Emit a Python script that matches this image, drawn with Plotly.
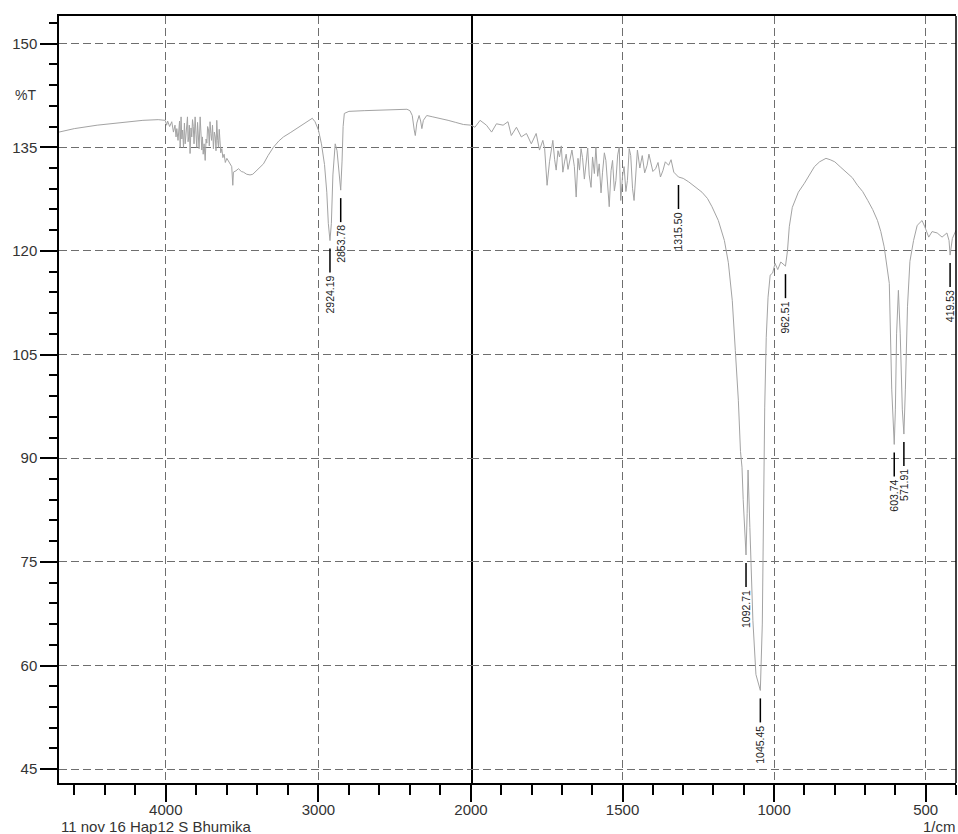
import plotly.graph_objects as go

# ---------------- data ----------------
# left panel: 4700 -> 2000 1/cm
wn_left = [4700, 4600, 4450, 4300, 4150, 4050,
           4004, 3995, 3988, 3975, 3961, 3950, 3940, 3933, 3928, 3920, 3915, 3910, 3906, 3900,
           3895, 3890, 3884, 3878, 3873, 3868, 3865, 3858, 3854, 3850, 3846, 3841, 3835, 3830,
           3825, 3820, 3815, 3808, 3802, 3797, 3792, 3788, 3782, 3775, 3770, 3764, 3760, 3755,
           3749, 3742, 3736, 3731, 3726, 3720, 3715, 3710, 3705, 3700, 3694, 3688, 3682, 3676,
           3671, 3666, 3660, 3655, 3650, 3645, 3640, 3633, 3626, 3618, 3610, 3600, 3585,
           3568, 3561, 3557, 3540, 3524, 3505, 3491, 3470, 3448, 3430, 3415, 3390, 3360, 3330,
           3295, 3260, 3229, 3185, 3142, 3100, 3054, 3040, 3022, 3000, 2980, 2960, 2945, 2935,
           2924.19, 2915, 2905, 2890, 2878, 2865, 2853.78, 2845, 2838, 2830, 2800, 2700, 2600,
           2500, 2420, 2400, 2385, 2372, 2365, 2355, 2340, 2330, 2322, 2312, 2290, 2250, 2200,
           2150, 2100, 2050, 2000]
t_left = [137.2, 137.7, 138.2, 138.6, 138.9, 139.0,
          138.9, 138.2, 138.8, 138.0, 138.7, 137.2, 138.2, 136.5, 137.7, 136.0, 137.0, 138.8, 135.0, 139.4,
          136.2, 137.5, 135.0, 138.5, 135.5, 137.0, 138.0, 139.4, 135.8, 136.5, 138.2, 134.1, 137.8, 136.5,
          139.0, 138.0, 135.5, 139.4, 136.8, 135.0, 138.6, 137.0, 134.8, 139.4, 136.0, 134.6, 136.5, 134.0,
          135.5, 133.1, 136.2, 135.6, 138.0, 137.5, 135.2, 138.7, 137.0, 136.0, 138.2, 134.8, 137.2, 136.5,
          134.5, 138.9, 136.0, 135.0, 137.6, 135.5, 134.2, 134.8, 133.5, 134.0, 132.8, 133.4, 132.8,
          132.2, 129.5, 131.4, 131.6, 131.9, 131.5, 131.4, 131.1, 131.0, 131.1, 131.4, 132.0, 132.6, 133.8,
          135.0, 135.9, 136.5, 137.1, 137.7, 138.4, 139.0, 139.2, 138.7, 137.5, 135.5, 132.5, 128.5, 124.0,
          121.5, 124.0, 131.0, 135.5, 134.5, 131.0, 128.8, 133.0, 138.0, 139.9, 140.2, 140.3, 140.4,
          140.5, 140.5, 140.3, 139.6, 137.5, 136.7, 138.5, 139.6, 138.8, 137.7, 138.9, 139.6, 139.4, 139.2,
          138.9, 138.6, 138.3, 138.2]

# right panel: 2000 -> 400 1/cm
wn_right = [2000, 1987, 1970, 1949, 1932, 1916, 1894, 1878, 1867, 1850, 1834, 1817, 1801, 1785,
            1774, 1763, 1757, 1749, 1741, 1735, 1730, 1724, 1719, 1713, 1708, 1702, 1697, 1691, 1686,
            1680, 1675, 1667, 1659, 1653, 1647, 1642, 1637, 1632, 1626, 1621, 1615, 1610, 1604, 1599,
            1593, 1588, 1582, 1577, 1571, 1566, 1560, 1555, 1549, 1544, 1538, 1533, 1527, 1522, 1516,
            1511, 1506, 1500, 1495, 1489, 1484, 1478, 1473, 1467, 1462, 1456, 1451, 1443, 1435, 1427,
            1419, 1413, 1408, 1400, 1391, 1383, 1375, 1367, 1359, 1348, 1340, 1331, 1315.50, 1300,
            1282, 1260, 1238, 1220, 1205, 1184, 1164, 1151, 1138, 1128, 1118, 1111, 1106, 1102,
            1097, 1092.71, 1089, 1086, 1080, 1070, 1060, 1045.45, 1039, 1036, 1031, 1026, 1020,
            1013, 1005, 997, 988, 978, 962.51, 956, 950, 940, 920, 900, 880, 867, 850, 829, 815,
            800, 780, 760, 742, 725, 708, 691, 675, 659, 648, 637, 628, 620, 612, 606, 603.74,
            600, 596, 590, 584, 577, 571.91, 567, 560, 552, 540, 528, 512, 503, 490, 479, 462,
            446, 430, 423, 419.53, 412, 400]
t_right = [138.2, 137.9, 138.9, 138.2, 137.2, 138.4, 138.2, 138.7, 136.7, 137.9, 136.5, 137.0, 135.5, 137.0,
           134.6, 136.0, 134.8, 129.5, 132.9, 135.0, 136.0, 133.2, 131.7, 134.5, 133.6, 135.2, 131.4, 133.0, 134.0,
           131.8, 133.1, 134.6, 132.2, 127.8, 133.4, 131.7, 134.8, 133.5, 130.4, 132.6, 134.9, 131.0, 129.2, 133.6,
           131.2, 135.0, 130.8, 132.6, 128.4, 131.4, 134.2, 133.1, 129.9, 126.4, 131.6, 133.1, 128.7, 130.2, 133.9,
           135.0, 127.3, 130.9, 132.2, 128.6, 130.2, 134.8, 133.8, 129.0, 127.3, 131.5, 134.6, 132.0, 133.8, 131.3,
           132.4, 134.0, 132.9, 131.5, 131.9, 132.8, 130.7, 131.6, 132.9, 132.4, 133.2, 131.4, 130.7, 130.5,
           130.0, 129.3, 128.5, 127.6, 126.4, 124.4, 121.5, 118.3, 112.8, 105.6, 98.4, 91.0, 88.7, 84.0,
           79.0, 76.0, 82.0, 88.3, 80.0, 66.5, 58.7, 56.4, 66.0, 83.0, 97.4, 107.5, 113.3,
           116.5, 116.8, 118.2, 117.3, 118.4, 117.8, 120.0, 123.5, 126.3, 128.5, 129.8, 131.2, 132.2, 132.9, 133.4, 133.2,
           132.9, 132.1, 131.3, 130.6, 129.5, 128.6, 127.3, 126.0, 124.4, 122.8, 120.6, 118.0, 115.3, 100.0, 93.5, 92.0,
           97.0, 108.0, 114.3, 108.0, 97.0, 93.5, 100.0, 112.0, 118.5, 121.5, 123.7, 124.4, 123.5, 122.0, 122.8, 122.6,
           122.0, 122.6, 121.5, 119.4, 121.8, 123.0]

# labelled peaks
peak_wn = [2924.19, 2853.78, 1315.50, 1092.71, 1045.45, 962.51, 603.74, 571.91, 419.53]
peak_t = [121.5, 128.8, 130.7, 76.0, 56.4, 117.8, 92.0, 93.5, 119.4]
peak_text = ["2924.19", "2853.78", "1315.50", "1092.71", "1045.45", "962.51", "603.74", "571.91", "419.53"]

y_ticks = [45, 60, 75, 90, 105, 120, 135, 150]
x_left_ticks = [4000, 3000, 2000]
x_right_ticks = [1500, 1000, 500]

SPLIT = 0.4593
LINE_C = "#a3a3a3"
GRID_C = "#6e6e6e"
TXT_C = "#333333"
FONT = "Liberation Sans, Arial, sans-serif"

fig = go.Figure()
fig.add_trace(go.Scatter(x=wn_left, y=t_left, mode="lines", xaxis="x", yaxis="y",
                         line=dict(color=LINE_C, width=1), hoverinfo="skip"))
fig.add_trace(go.Scatter(x=wn_right, y=t_right, mode="lines", xaxis="x2", yaxis="y",
                         line=dict(color=LINE_C, width=1), hoverinfo="skip"))

common_x = dict(ticks="outside", ticklen=17, tickwidth=1.5, tickcolor="black",
                showline=True, linecolor="black", linewidth=1.5, mirror=True,
                showgrid=True, gridcolor=GRID_C, griddash="8px,4px", gridwidth=1,
                zeroline=False, automargin=False, ticklabelstandoff=-5,
                tickfont=dict(size=15, color=TXT_C, family=FONT))

fig.update_layout(
    template="none",
    width=958, height=834,
    margin=dict(l=59, r=2, t=16, b=51, autoexpand=False),
    plot_bgcolor="white", paper_bgcolor="white",
    showlegend=False,
    font=dict(family=FONT, color=TXT_C),
    xaxis=dict(domain=[0, SPLIT], range=[4700, 2000], anchor="y",
               tickmode="array", tickvals=x_left_ticks,
               minor=dict(tickmode="linear", tick0=0, dtick=200, ticklen=10, tickwidth=1.5,
                          tickcolor="black", showgrid=False),
               **common_x),
    xaxis2=dict(domain=[SPLIT, 1], range=[2000, 400], anchor="y",
                tickmode="array", tickvals=x_right_ticks,
                minor=dict(tickmode="linear", tick0=0, dtick=100, ticklen=10, tickwidth=1.5,
                           tickcolor="black", showgrid=False),
                **common_x),
    yaxis=dict(domain=[0, 1], range=[43, 154], anchor="x",
               tickmode="array", tickvals=y_ticks,
               ticks="outside", ticklen=17, tickwidth=1.5, tickcolor="black",
               minor=dict(tickmode="linear", tick0=0, dtick=3, ticklen=8, tickwidth=1.5,
                          tickcolor="black", showgrid=False),
               showline=True, linecolor="black", linewidth=1.5, mirror=True,
               showgrid=True, gridcolor=GRID_C, griddash="8px,4px", gridwidth=1,
               zeroline=False, automargin=False,
               tickfont=dict(size=15, color=TXT_C, family=FONT)),
)

# right frame edge
fig.add_shape(type="line", xref="paper", yref="paper", x0=1, x1=1, y0=0, y1=1,
              line=dict(color="black", width=1.5))

GAP, LEN = 8, 24
for w, t, s in zip(peak_wn, peak_t, peak_text):
    xr = "x" if w >= 2000 else "x2"
    fig.add_shape(type="line", xref=xr, yref="y", ysizemode="pixel", yanchor=t,
                  x0=w, x1=w, y0=-GAP, y1=-(GAP + LEN),
                  line=dict(color="black", width=1.5))
    fig.add_annotation(x=w, y=t, xref=xr, yref="y", text=s, showarrow=False,
                       textangle=-90, yanchor="top", xanchor="center",
                       yshift=-(GAP + LEN + 1),
                       font=dict(size=10.5, color="#222222", family=FONT))

fig.add_annotation(text="%T", xref="paper", yref="paper", x=-46 / 897, xanchor="left",
                   y=1 - (95 - 16) / 767, yanchor="middle", showarrow=False,
                   font=dict(size=14, color=TXT_C, family=FONT))
fig.add_annotation(text="11 nov 16 Hap12 S Bhumika", xref="paper", yref="paper", x=0,
                   xanchor="left", y=-(826.5 - 783) / 767, yanchor="middle", showarrow=False,
                   font=dict(size=15, color=TXT_C, family=FONT))
fig.add_annotation(text="1/cm", xref="paper", yref="paper", x=(958 - 59) / 897,
                   xanchor="right", y=-(826.5 - 783) / 767, yanchor="middle", showarrow=False,
                   font=dict(size=15, color=TXT_C, family=FONT))

fig.write_html("out.html")
